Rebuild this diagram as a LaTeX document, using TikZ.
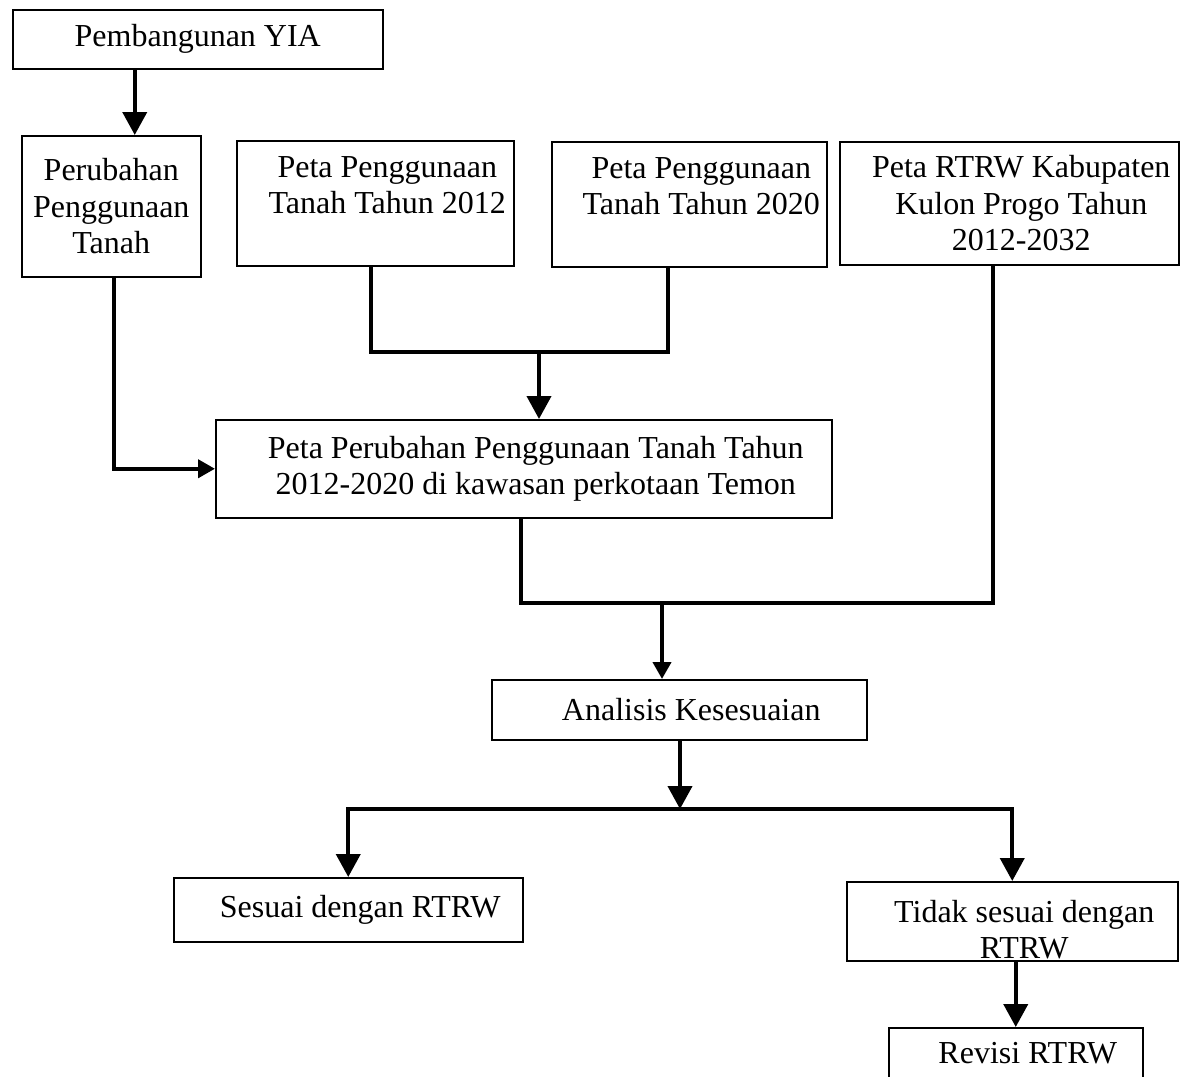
\documentclass[tikz,border=0pt]{standalone}
\usepackage{fontspec}
\setmainfont{Liberation Serif}
\usetikzlibrary{arrows.meta, positioning, calc}
\newcommand{\indt}{\hspace*{24pt}}

\begin{document}
\begin{tikzpicture}[
    x=1pt, y=-1pt,
    box/.style={draw, rectangle, line width=1.5pt, anchor=north west, inner sep=2pt, align=center, font=\fontsize{32pt}{36.5pt}\selectfont},
    line/.style={draw, line width=4pt},
    arr/.style={line, -{Triangle[length=23pt, width=24pt]}},
    arrs/.style={line, -{Triangle[length=17pt, width=18pt]}}
]
    \useasboundingbox (0,0) rectangle (1188,1076);

    % Boxes
    \node[box, minimum width=370pt, minimum height=59pt] (yia) at (12,9) {Pembangunan YIA};
    \node[box, minimum width=179pt, minimum height=141pt] (perubahan) at (21,135) {Perubahan\\Penggunaan\\Tanah};
    \node[box, minimum width=277pt, minimum height=125pt] (p2012) at (236,140) {\indt Peta Penggunaan\\\indt Tanah Tahun 2012\\\mbox{}};
    \node[box, minimum width=275pt, minimum height=125pt] (p2020) at (551,141) {\indt Peta Penggunaan\\\indt Tanah Tahun 2020\\\mbox{}};
    \node[box, minimum width=339pt, minimum height=123pt] (rtrw) at (839,141) {\indt Peta RTRW Kabupaten\\\indt Kulon Progo Tahun\\\indt 2012-2032};
    \node[box, minimum width=616pt, minimum height=98pt] (perkotaan) at (215,419) {\indt Peta Perubahan Penggunaan Tanah Tahun\\\indt 2012-2020 di kawasan perkotaan Temon};
    \node[box, minimum width=375pt, minimum height=60pt] (analisis) at (491,679) {\indt Analisis Kesesuaian};
    \node[box, minimum width=349pt, minimum height=64pt] (sesuai) at (173,877) {\indt Sesuai dengan RTRW};
    \node[box, minimum width=331pt, minimum height=79pt, text height=74.5pt, text depth=0pt] (tidak) at (846,881) {\indt Tidak sesuai dengan\\\indt RTRW};
    \node[box, minimum width=254pt, minimum height=50pt] (revisi) at (888,1027) {\indt Revisi RTRW};

    % Connectors
    \draw[arr] ([xshift=-63pt]yia.south) -- ([xshift=-63pt]yia.south |- perubahan.north);
    \draw[arrs] ([xshift=3pt]perubahan.south) |- (perkotaan.west);

    \coordinate (join1) at (539,352);
    \draw[line] ([xshift=-4pt]p2012.south) |- (join1) -| ([xshift=-21pt]p2020.south);
    \draw[arr] (join1) -- (join1 |- perkotaan.north);

    \coordinate (join2) at (662,603);
    \draw[line] ([xshift=-3pt]perkotaan.south) |- (join2) -| ([xshift=-16pt]rtrw.south);
    \draw[arrs] (join2) -- (join2 |- analisis.north);

    \coordinate (split) at (680,809);
    \draw[arr] (split |- analisis.south) -- (split);
    \draw[arr] (split) -| (sesuai.north);
    \draw[arr] (split) -| (tidak.north);
    \draw[arr] (tidak.south -| revisi.north) -- (revisi.north);
\end{tikzpicture}
\end{document}
